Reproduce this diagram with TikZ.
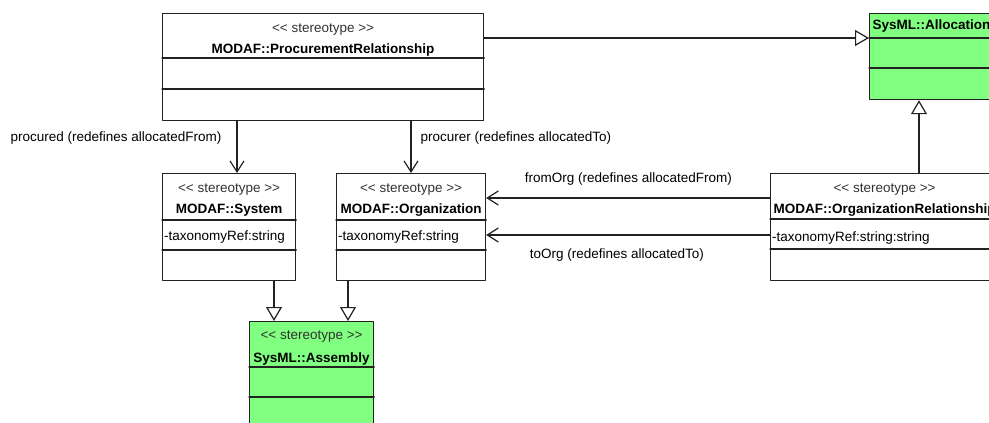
\documentclass[tikz,border=0pt]{standalone}
\usepackage{fontspec}
\usepackage{xcolor}
\usetikzlibrary{arrows.meta}
\newfontfamily\umlfont{Liberation Sans}
\definecolor{sysmlgreen}{RGB}{128,255,128}
\definecolor{umlline}{RGB}{34,34,34}
\newcommand{\stereotag}{<\kern0pt< stereotype >\kern0pt>}

\begin{document}
\begin{tikzpicture}[line cap=round,line join=round,x=1pt,y=-1pt,
    font=\umlfont\fontsize{13.5}{16}\selectfont,
    umlbox/.style={draw=umlline,line width=1.2pt,fill=white,anchor=north west,inner sep=0pt},
    sysmlbox/.style={umlbox,fill=sysmlgreen},
    stereo/.style={anchor=base,text=black!80,inner sep=0pt},
    classname/.style={anchor=base,font=\umlfont\bfseries\fontsize{13.5}{16}\selectfont,inner sep=0pt},
    attrib/.style={anchor=base west,inner sep=0pt},
    compart/.style={draw=umlline,line width=1.2pt},
    assoc/.style={draw=umlline,line width=1.2pt,-{Straight Barb[length=11pt,width=14pt]}},
    general/.style={draw=umlline,line width=1.2pt,-{Triangle[fill=white,length=14pt,width=16pt]}}]
		\useasboundingbox (0,0) rectangle (989,423);
		\clip (0,0) rectangle (989,423);
		% classes
		\node[umlbox,minimum width=321pt,minimum height=107pt] (procrel) at (162,13) {};
		\node[sysmlbox,minimum width=124pt,minimum height=86pt] (alloc) at (869,13) {};
		\node[umlbox,minimum width=133pt,minimum height=107pt] (system) at (162,173) {};
		\node[umlbox,minimum width=149pt,minimum height=107pt] (org) at (336,173) {};
		\node[umlbox,minimum width=228pt,minimum height=107pt] (orgrel) at (770,173) {};
		\node[sysmlbox,minimum width=124pt,minimum height=120pt] (assembly) at (249,321) {};
		% compartments
		\draw[compart] ([yshift=-45pt]procrel.north west) -- ([yshift=-45pt]procrel.north east);
		\draw[compart] ([yshift=-76pt]procrel.north west) -- ([yshift=-76pt]procrel.north east);
		\draw[compart] ([yshift=-25pt]alloc.north west) -- ([yshift=-25pt]alloc.north east);
		\draw[compart] ([yshift=-55pt]alloc.north west) -- ([yshift=-55pt]alloc.north east);
		\draw[compart] ([yshift=-47pt]system.north west) -- ([yshift=-47pt]system.north east);
		\draw[compart] ([yshift=-77pt]system.north west) -- ([yshift=-77pt]system.north east);
		\draw[compart] ([yshift=-47pt]org.north west) -- ([yshift=-47pt]org.north east);
		\draw[compart] ([yshift=-77pt]org.north west) -- ([yshift=-77pt]org.north east);
		\draw[compart] ([yshift=-46pt]orgrel.north west) -- ([yshift=-46pt]orgrel.north east);
		\draw[compart] ([yshift=-76pt]orgrel.north west) -- ([yshift=-76pt]orgrel.north east);
		\draw[compart] ([yshift=-46pt]assembly.north west) -- ([yshift=-46pt]assembly.north east);
		\draw[compart] ([yshift=-76pt]assembly.north west) -- ([yshift=-76pt]assembly.north east);
		% texts
		\node[stereo] (procrel-st) at ([yshift=-19pt]procrel.north) {\stereotag};
		\node[classname] (procrel-nm) at ([yshift=-40pt]procrel.north) {MODAF::ProcurementRelationship};
		\node[classname] (alloc-nm) at ([yshift=-17pt]alloc.north) {SysML::Allocation};
		\node[stereo] (system-st) at ([yshift=-19pt]system.north) {\stereotag};
		\node[classname] (system-nm) at ([yshift=-40pt]system.north) {MODAF::System};
		\node[attrib] (system-at) at ([xshift=2pt,yshift=-67pt]system.north west) {-taxonomyRef:string};
		\node[stereo] (org-st) at ([yshift=-19pt]org.north) {\stereotag};
		\node[classname] (org-nm) at ([yshift=-40pt]org.north) {MODAF::Organization};
		\node[attrib] (org-at) at ([xshift=2pt,yshift=-67pt]org.north west) {-taxonomyRef:string};
		\node[stereo] (orgrel-st) at ([yshift=-19pt]orgrel.north) {\stereotag};
		\node[classname] (orgrel-nm) at ([yshift=-40pt]orgrel.north) {MODAF::OrganizationRelationship};
		\node[attrib] (orgrel-at) at ([xshift=2pt,yshift=-68pt]orgrel.north west) {-taxonomyRef:string:string};
		\node[stereo] (assembly-st) at ([yshift=-18pt]assembly.north) {\stereotag};
		\node[classname] (assembly-nm) at ([yshift=-41pt]assembly.north) {SysML::Assembly};
		% connectors
		\draw[general] ([yshift=-25pt]procrel.north east) -- ([yshift=-25pt]alloc.north west);
		\draw[general] ([xshift=149pt]orgrel.north west) -- ([xshift=50pt]alloc.south west);
		\draw[assoc] ([xshift=75pt]procrel.south west) -- ([xshift=75pt]system.north west)
			node[pos=0,anchor=base east,xshift=-15pt,yshift=-20pt,inner sep=0pt] {procured (redefines allocatedFrom)};
		\draw[assoc] ([xshift=249pt]procrel.south west) -- ([xshift=75pt]org.north west)
			node[pos=0,anchor=base west,xshift=9pt,yshift=-20pt,inner sep=0pt] {procurer (redefines allocatedTo)};
		\draw[assoc] ([yshift=-25pt]orgrel.north west) -- ([yshift=-25pt]org.north east)
			node[pos=1,anchor=base west,xshift=38pt,yshift=16pt,inner sep=0pt] {fromOrg (redefines allocatedFrom)};
		\draw[assoc] ([yshift=-62pt]orgrel.north west) -- ([yshift=-62pt]org.north east)
			node[pos=1,anchor=base west,xshift=43pt,yshift=-23pt,inner sep=0pt] {toOrg (redefines allocatedTo)};
		\draw[general] ([xshift=112pt]system.south west) -- ([xshift=25pt]assembly.north west);
		\draw[general] ([xshift=12pt]org.south west) -- ([xshift=99pt]assembly.north west);
		\end{tikzpicture}
\end{document}
